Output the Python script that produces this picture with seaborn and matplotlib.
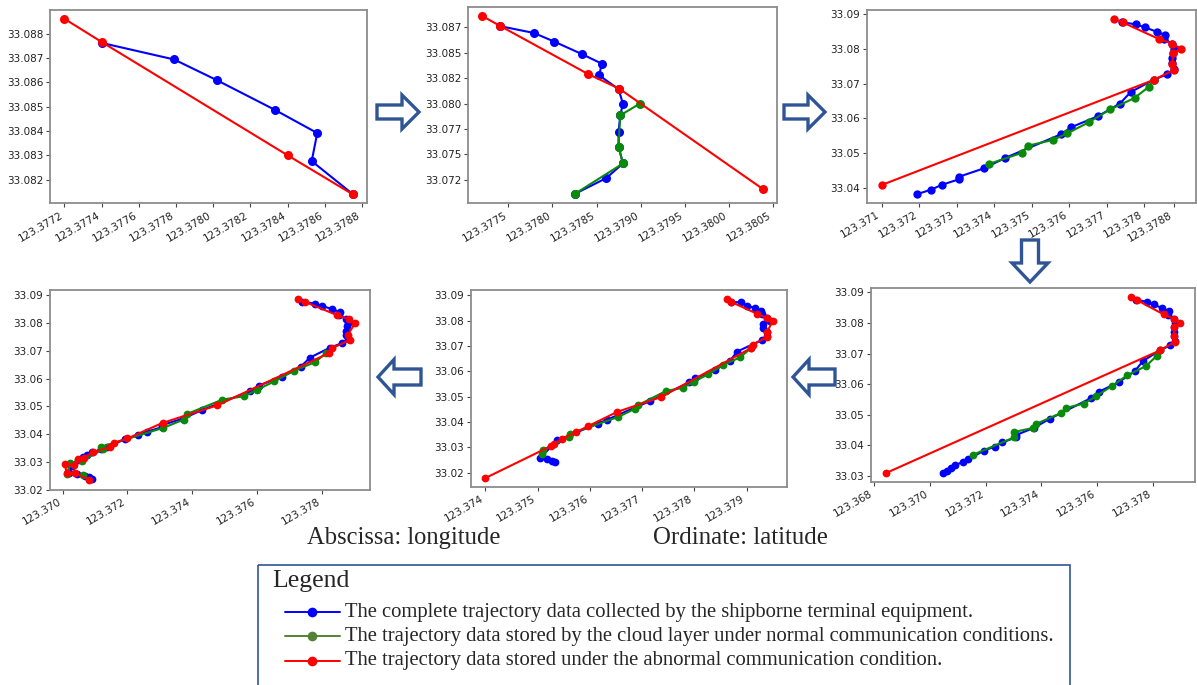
import numpy as np
import pandas as pd
import matplotlib
matplotlib.use("Agg")
import matplotlib.pyplot as plt
import seaborn as sns
from matplotlib.patches import FancyArrow, Rectangle
from matplotlib.lines import Line2D

# ============================
# Data: complete trajectory (blue) shared by panels 1, 2, 3, 6
# ============================
TRACK_LON = [123.37740, 123.37779, 123.37802, 123.37833, 123.37856, 123.37853, 123.37875, 123.37880,
             123.37877, 123.37875, 123.37875, 123.37880, 123.37861, 123.37825, 123.37764, 123.37735,
             123.37677, 123.37605, 123.37578, 123.37430, 123.37372, 123.37307, 123.37307, 123.37260,
             123.37232, 123.37194, 123.37137, 123.37119, 123.37090, 123.37074, 123.37062, 123.37047]
TRACK_LAT = [33.08762, 33.08694, 33.08609, 33.08488, 33.08392, 33.08277, 33.08142, 33.07998,
             33.07884, 33.07721, 33.07577, 33.07410, 33.07266, 33.07109, 33.06757, 33.06427,
             33.06065, 33.05747, 33.05545, 33.04870, 33.04566, 33.04330, 33.04257, 33.04094,
             33.03958, 33.03826, 33.03548, 33.03460, 33.03350, 33.03252, 33.03175, 33.03088]
TRACK_COUNT = {1: 7, 2: 14, 3: 26, 6: 32}

# hook at the end of the trip (panel 4)
HOOK_LON = [123.37030, 123.37020, 123.37045, 123.37070, 123.37083, 123.37090]
HOOK_LAT = [33.02850, 33.02620, 33.02560, 33.02520, 33.02480, 33.02410]

# panel 1
P1_RED_LON = [123.37720, 123.37740, 123.37840, 123.37875]
P1_RED_LAT = [33.08861, 33.08766, 33.08301, 33.08141]

# panel 2
P2_GREEN_LON = [123.37899, 123.37877, 123.37875, 123.37880, 123.37825]
P2_GREEN_LAT = [33.07998, 33.07884, 33.07577, 33.07410, 33.07109]
P2_RED_LON = [123.37720, 123.37740, 123.37840, 123.37876, 123.38039]
P2_RED_LAT = [33.08862, 33.08766, 33.08292, 33.08145, 33.07158]

# panels 3 and 6 (red head is the same, abnormal end point differs)
RED_HEAD_LON = [123.37720, 123.37742, 123.37838, 123.37875, 123.37898, 123.37877, 123.37875, 123.37880, 123.37825]
RED_HEAD_LAT = [33.08858, 33.08755, 33.08283, 33.08142, 33.08000, 33.07868, 33.07575, 33.07396, 33.07104]
P3_RED_END = (123.37101, 33.04094)
P6_RED_END = (123.36841, 33.03088)

P3_GREEN_LON = [123.37825, 123.37813, 123.37774, 123.37710, 123.37652, 123.37595, 123.37558, 123.37490,
                123.37473, 123.37387]
P3_GREEN_LAT = [33.07104, 33.06915, 33.06585, 33.06264, 33.05887, 33.05575, 33.05387, 33.05217,
                33.05009, 33.04698]

P6_GREEN_LON = [123.37825, 123.37813, 123.37775, 123.37707, 123.37652, 123.37596, 123.37553, 123.37487,
                123.37471, 123.37380, 123.37368, 123.37302, 123.37302, 123.37154]
P6_GREEN_LAT = [33.07104, 33.06921, 33.06593, 33.06286, 33.05935, 33.05607, 33.05366, 33.05223,
                33.05059, 33.04698, 33.04566, 33.04435, 33.04260, 33.03690]

# panel 4
P4_GREEN_LON = [123.37813, 123.37780, 123.37714, 123.37654, 123.37601, 123.37559, 123.37493, 123.37385,
                123.37374, 123.37311, 123.37119, 123.37124, 123.37060, 123.37024, 123.37013, 123.37063]
P4_GREEN_LAT = [33.06921, 33.06592, 33.06282, 33.05901, 33.05603, 33.05365, 33.05246, 33.04733,
                33.04530, 33.04232, 33.03553, 33.03458, 33.03040, 33.02981, 33.02587, 33.02540]
P4_RED_LON = [123.37726, 123.37747, 123.37846, 123.37883, 123.37904, 123.37880, 123.37887, 123.37832,
              123.37822, 123.37478, 123.37309, 123.37200, 123.37159, 123.37147, 123.37095, 123.37065,
              123.37049, 123.37034, 123.37006, 123.37013, 123.37039, 123.37083]
P4_RED_LAT = [33.08857, 33.08762, 33.08285, 33.08130, 33.08011, 33.07570, 33.07391, 33.07093,
              33.06914, 33.05043, 33.04411, 33.03851, 33.03696, 33.03541, 33.03362, 33.03160,
              33.03100, 33.02886, 33.02921, 33.02623, 33.02611, 33.02349]

# panel 5
P5_BLUE_LON = [123.37871, 123.37890, 123.37900, 123.37917, 123.37928, 123.37930, 123.37940, 123.37945,
               123.37932, 123.37932, 123.37940, 123.37940, 123.37930, 123.37882, 123.37868, 123.37839,
               123.37801, 123.37790, 123.37716, 123.37633, 123.37615, 123.37537, 123.37505, 123.37518,
               123.37528, 123.37534]
P5_BLUE_LAT = [33.08735, 33.08722, 33.08590, 33.08497, 33.08392, 33.08280, 33.08100, 33.07990,
               33.07870, 33.07700, 33.07570, 33.07400, 33.07241, 33.06778, 33.06407, 33.06037,
               33.05720, 33.05561, 33.04833, 33.04093, 33.03934, 33.03272, 33.02571, 33.02545,
               33.02479, 33.02439]
P5_GREEN_LON = [123.37908, 123.37888, 123.37855, 123.37826, 123.37799, 123.37778, 123.37745, 123.37692,
                123.37687, 123.37654, 123.37562, 123.37560, 123.37510, 123.37509]
P5_GREEN_LAT = [33.06910, 33.06553, 33.06249, 33.05878, 33.05587, 33.05349, 33.05217, 33.04661,
                33.04529, 33.04198, 33.03537, 33.03405, 33.02902, 33.02743]
P5_RED_LON = [123.37862, 123.37871, 123.37920, 123.37940, 123.37950, 123.37940, 123.37940, 123.37912,
              123.37908, 123.37737, 123.37652, 123.37596, 123.37574, 123.37547, 123.37531, 123.37525,
              123.37400]
P5_RED_LAT = [33.08855, 33.08735, 33.08272, 33.08101, 33.07995, 33.07571, 33.07373, 33.07042,
              33.06910, 33.04992, 33.04397, 33.03828, 33.03603, 33.03339, 33.03140, 33.03048,
              33.01791]

# tick labels
P1_XTICKS = [123.3772, 123.3774, 123.3776, 123.3778, 123.3780, 123.3782, 123.3784, 123.3786, 123.3788]
P1_YTICKS = [33.082, 33.083, 33.084, 33.085, 33.086, 33.087, 33.088]
P2_XTICKS = [123.3775, 123.3780, 123.3785, 123.3790, 123.3795, 123.3800, 123.3805]
P2_YTICKS = [33.0725, 33.0750, 33.0775, 33.0800, 33.0825, 33.0850, 33.0875]
P2_YLABELS = ["33.072", "33.075", "33.077", "33.080", "33.082", "33.085", "33.087"]
P3_XTICKS = [123.371, 123.372, 123.373, 123.374, 123.375, 123.376, 123.377, 123.378, 123.3788]
P3_XLABELS = ["123.371", "123.372", "123.373", "123.374", "123.375", "123.376", "123.377", "123.378", "123.3788"]
P3_YTICKS = [33.04, 33.05, 33.06, 33.07, 33.08, 33.09]
P4_XTICKS = [123.370, 123.372, 123.374, 123.376, 123.378]
P4_YTICKS = [33.02, 33.03, 33.04, 33.05, 33.06, 33.07, 33.08, 33.09]
P5_XTICKS = [123.374, 123.375, 123.376, 123.377, 123.378, 123.379]
P5_YTICKS = [33.02, 33.03, 33.04, 33.05, 33.06, 33.07, 33.08, 33.09]
P6_XTICKS = [123.368, 123.370, 123.372, 123.374, 123.376, 123.378]
P6_YTICKS = [33.03, 33.04, 33.05, 33.06, 33.07, 33.08, 33.09]

LEGEND_LABELS = [
    "The complete trajectory data collected by the shipborne terminal equipment.",
    "The trajectory data stored by the cloud layer under normal communication conditions.",
    "The trajectory data stored under the abnormal communication condition.",
]

BLUE = "#0000ff"
GREEN = "#0a8a0a"
RED = "#ff0000"
ARROW = "#2f5597"
W, H = 1197, 685


def draw_series(ax, lon, lat, color, ms):
    df = pd.DataFrame({"lon": lon, "lat": lat})
    sns.lineplot(data=df, x="lon", y="lat", sort=False, estimator=None, color=color,
                 marker="o", markersize=ms, markeredgewidth=0, linewidth=1.5, ax=ax, legend=False)


def style_axes(ax, xticks, xlabels, yticks, ylabels):
    ax.set_xticks(xticks)
    ax.set_xticklabels(xlabels, rotation=30, ha="right")
    ax.set_yticks(yticks)
    ax.set_yticklabels(ylabels)
    ax.set_xlabel("")
    ax.set_ylabel("")
    ax.tick_params(left=True, bottom=True, length=3, width=0.8, color="#444444",
                   labelsize=7.5, labelcolor="#222222", pad=2)
    for sp in ax.spines.values():
        sp.set_color("#8c8c8c")
        sp.set_linewidth(1.3)


def px_axes(fig, left, top, right, bottom):
    return fig.add_axes([left / W, 1 - bottom / H, (right - left) / W, (bottom - top) / H])


# ============================
# Figure
# ============================
sns.set_style("white")
plt.rcParams["font.family"] = ["DejaVu Sans"]

fig = plt.figure(figsize=(W / 100, H / 100), dpi=100)

fmt4 = lambda v: ["%.4f" % t for t in v]
fmt3 = lambda v: ["%.3f" % t for t in v]
fmt2 = lambda v: ["%.2f" % t for t in v]

MS_TOP, MS_BOT = 6.5, 5.6

# panel 1
ax = px_axes(fig, 50, 10, 367, 203)
n = TRACK_COUNT[1]
draw_series(ax, TRACK_LON[:n], TRACK_LAT[:n], BLUE, MS_TOP)
draw_series(ax, P1_RED_LON, P1_RED_LAT, RED, MS_TOP)
style_axes(ax, P1_XTICKS, fmt4(P1_XTICKS), P1_YTICKS, fmt3(P1_YTICKS))

# panel 2
ax = px_axes(fig, 468, 7, 777, 203)
n = TRACK_COUNT[2]
draw_series(ax, TRACK_LON[:n], TRACK_LAT[:n], BLUE, MS_TOP)
draw_series(ax, P2_GREEN_LON, P2_GREEN_LAT, GREEN, MS_TOP)
draw_series(ax, P2_RED_LON, P2_RED_LAT, RED, MS_TOP)
style_axes(ax, P2_XTICKS, fmt4(P2_XTICKS), P2_YTICKS, P2_YLABELS)

# panel 3
ax = px_axes(fig, 867, 10, 1196, 203)
n = TRACK_COUNT[3]
draw_series(ax, TRACK_LON[:n], TRACK_LAT[:n], BLUE, 6)
draw_series(ax, P3_GREEN_LON, P3_GREEN_LAT, GREEN, 6)
draw_series(ax, RED_HEAD_LON + [P3_RED_END[0]], RED_HEAD_LAT + [P3_RED_END[1]], RED, 6)
style_axes(ax, P3_XTICKS, P3_XLABELS, P3_YTICKS, fmt2(P3_YTICKS))

# panel 4 (bottom left)
ax = px_axes(fig, 50, 290, 370, 490)
draw_series(ax, TRACK_LON + HOOK_LON, TRACK_LAT + HOOK_LAT, BLUE, MS_BOT)
draw_series(ax, P4_GREEN_LON, P4_GREEN_LAT, GREEN, MS_BOT)
draw_series(ax, P4_RED_LON, P4_RED_LAT, RED, MS_BOT)
style_axes(ax, P4_XTICKS, fmt3(P4_XTICKS), P4_YTICKS, fmt2(P4_YTICKS))

# panel 5 (bottom middle)
ax = px_axes(fig, 471, 290, 787, 487)
draw_series(ax, P5_BLUE_LON, P5_BLUE_LAT, BLUE, MS_BOT)
draw_series(ax, P5_GREEN_LON, P5_GREEN_LAT, GREEN, MS_BOT)
draw_series(ax, P5_RED_LON, P5_RED_LAT, RED, MS_BOT)
style_axes(ax, P5_XTICKS, fmt3(P5_XTICKS), P5_YTICKS, fmt2(P5_YTICKS))

# panel 6 (bottom right)
ax = px_axes(fig, 871, 288, 1195, 482)
n = TRACK_COUNT[6]
draw_series(ax, TRACK_LON[:n], TRACK_LAT[:n], BLUE, MS_BOT)
draw_series(ax, P6_GREEN_LON, P6_GREEN_LAT, GREEN, MS_BOT)
draw_series(ax, RED_HEAD_LON + [P6_RED_END[0]], RED_HEAD_LAT + [P6_RED_END[1]], RED, MS_BOT)
style_axes(ax, P6_XTICKS, fmt3(P6_XTICKS), P6_YTICKS, fmt2(P6_YTICKS))

# ============================
# Overlay: arrows, captions, legend box (pixel coordinates)
# ============================
ov = fig.add_axes([0, 0, 1, 1], zorder=10)
ov.set_xlim(0, W)
ov.set_ylim(H, 0)
ov.axis("off")
ov.patch.set_alpha(0)

arrow_kw = dict(length_includes_head=True, fc="white", ec=ARROW, lw=2.4, joinstyle="miter")
ov.add_patch(FancyArrow(377, 112, 42, 0, width=14, head_width=34, head_length=17, **arrow_kw))
ov.add_patch(FancyArrow(784, 112, 41, 0, width=14, head_width=34, head_length=17, **arrow_kw))
ov.add_patch(FancyArrow(1030, 240, 0, 42, width=17, head_width=36, head_length=19, **arrow_kw))
ov.add_patch(FancyArrow(835, 377, -42, 0, width=16, head_width=35, head_length=16, **arrow_kw))
ov.add_patch(FancyArrow(421, 377, -43, 0, width=16, head_width=35, head_length=16, **arrow_kw))

serif = ["Liberation Serif", "DejaVu Serif"]
ov.text(307, 538, "Abscissa: longitude", family=serif, fontsize=17.7, va="center", ha="left")
ov.text(653, 538, "Ordinate: latitude", family=serif, fontsize=17.9, va="center", ha="left")

ov.add_patch(Rectangle((258, 565), 812, 140, fill=False, ec=ARROW, lw=1.2))
ov.text(272, 581, "Legend", family=serif, fontsize=18.5, va="center", ha="left")
for y, col, lab in zip([612, 636, 661], [BLUE, "#548235", RED], LEGEND_LABELS):
    ov.add_line(Line2D([285, 340], [y, y], color=col, lw=1.4))
    ov.add_line(Line2D([312], [y], color=col, marker="o", markersize=7, markeredgewidth=0))
    ov.text(345, y, lab, family=serif, fontsize=14.9, va="center", ha="left")

fig.savefig("out.png", dpi=100)
